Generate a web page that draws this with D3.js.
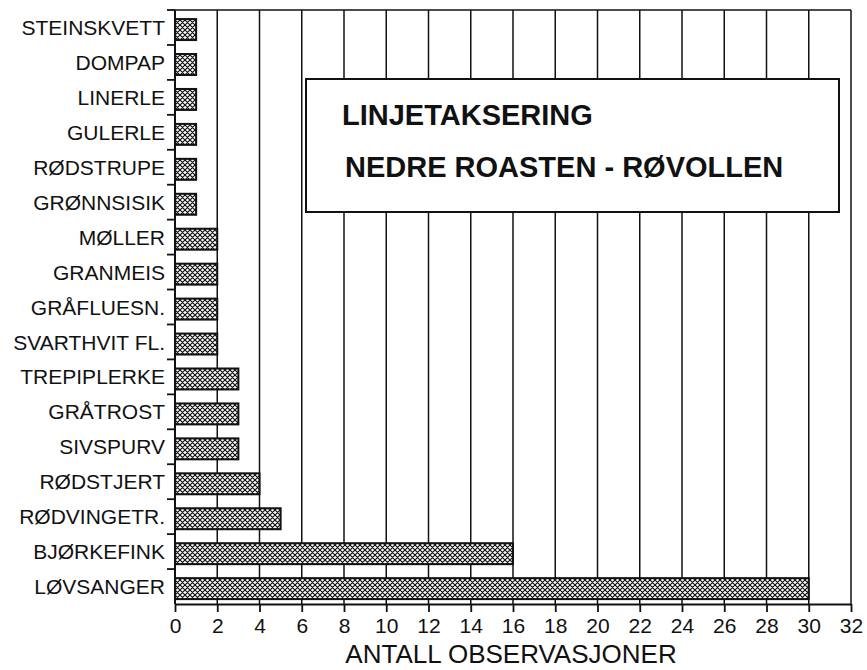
<!DOCTYPE html>
<meta charset="utf-8">
<body style="margin:0;background:#fff">
<script src="https://d3js.org/d3.v7.min.js"></script>
<style>
  body { font-family: "Liberation Sans", Arial, sans-serif; }
  .grid line { stroke: #111; stroke-width: 1.5; }
  .cat { font-size: 21px; fill: #111; }
  .x.axis text { font-size: 21px; fill: #111; font-family: "Liberation Sans", Arial, sans-serif; }
  .x.axis line, .x.axis path { stroke: #111; stroke-width: 1.8; }
</style>
<script>
// species, top to bottom
var species = ["STEINSKVETT", "DOMPAP", "LINERLE", "GULERLE", "RØDSTRUPE", "GRØNNSISIK",
  "MØLLER", "GRANMEIS", "GRÅFLUESN.", "SVARTHVIT FL.", "TREPIPLERKE", "GRÅTROST",
  "SIVSPURV", "RØDSTJERT", "RØDVINGETR.", "BJØRKEFINK", "LØVSANGER"];
var counts = [1, 1, 1, 1, 1, 1, 2, 2, 2, 2, 3, 3, 3, 4, 5, 16, 30];
var xTicks = [0, 2, 4, 6, 8, 10, 12, 14, 16, 18, 20, 22, 24, 26, 28, 30, 32];
var titleLines = ["LINJETAKSERING", "NEDRE ROASTEN - RØVOLLEN"];
var xTitle = "ANTALL OBSERVASJONER";

var W = 867, H = 670;
var margin = {top: 10, right: 16, bottom: 66, left: 175};

var svg = d3.select("body").append("svg")
    .attr("width", W)
    .attr("height", H);

// cross hatch fill for the bars
var pat = svg.append("defs").append("pattern")
    .attr("id", "hatch")
    .attr("patternUnits", "userSpaceOnUse")
    .attr("width", 5).attr("height", 5);
pat.append("rect").attr("width", 5).attr("height", 5).attr("fill", "#fff");
pat.append("path")
    .attr("d", "M0,0L5,5M5,0L0,5M-1,4L1,6M4,-1L6,1")
    .attr("stroke", "#111").attr("stroke-width", 1.2);

var x = d3.scaleLinear().domain([0, 32]).range([margin.left, W - margin.right]);
var y = d3.scaleBand().domain(species).range([margin.top, H - margin.bottom]).padding(0);

// vertical grid lines
svg.append("g").attr("class", "grid")
  .selectAll("line")
  .data(xTicks.slice(1))
  .enter().append("line")
    .attr("x1", function(d) { return x(d); })
    .attr("x2", function(d) { return x(d); })
    .attr("y1", margin.top)
    .attr("y2", H - margin.bottom);

// top frame line
svg.append("line")
    .attr("x1", x(0)).attr("x2", x(32))
    .attr("y1", margin.top).attr("y2", margin.top)
    .attr("stroke", "#111").attr("stroke-width", 1.5);

// bars
svg.append("g")
  .selectAll("rect")
  .data(species)
  .enter().append("rect")
    .attr("x", x(0))
    .attr("y", function(d) { return y(d) + y.step() * 0.26; })
    .attr("width", function(d, i) { return x(counts[i]) - x(0); })
    .attr("height", y.step() * 0.6)
    .attr("fill", "url(#hatch)")
    .attr("stroke", "#111")
    .attr("stroke-width", 2);

// left axis line and ticks between bands
svg.append("line")
    .attr("x1", x(0)).attr("x2", x(0))
    .attr("y1", margin.top).attr("y2", H - margin.bottom)
    .attr("stroke", "#111").attr("stroke-width", 2);

svg.append("g")
  .selectAll("line")
  .data(d3.range(species.length))
  .enter().append("line")
    .attr("x1", x(0) - 8).attr("x2", x(0))
    .attr("y1", function(i) { return margin.top + i * y.step(); })
    .attr("y2", function(i) { return margin.top + i * y.step(); })
    .attr("stroke", "#111").attr("stroke-width", 1.8);

svg.append("g")
  .selectAll("text")
  .data(species)
  .enter().append("text")
    .attr("class", "cat")
    .attr("x", x(0) - 10)
    .attr("y", function(d) { return y(d) + y.bandwidth() / 2; })
    .attr("dy", "0.36em")
    .attr("text-anchor", "end")
    .text(function(d) { return d; });

// bottom axis
svg.append("g")
    .attr("class", "x axis")
    .attr("transform", "translate(0," + (H - margin.bottom) + ")")
    .call(d3.axisBottom(x).tickValues(xTicks).tickSize(8).tickPadding(6).tickSizeOuter(0)
      .tickFormat(d3.format("d")));

svg.append("text")
    .attr("x", 511)
    .attr("y", 663)
    .attr("text-anchor", "middle")
    .style("font-size", "26px")
    .style("fill", "#111")
    .text(xTitle);

// title box
svg.append("rect")
    .attr("x", 306).attr("y", 79)
    .attr("width", 533).attr("height", 133)
    .attr("fill", "#fff")
    .attr("stroke", "#111")
    .attr("stroke-width", 2);

svg.append("text")
    .attr("x", 342).attr("y", 125)
    .style("font-size", "29px").style("font-weight", "bold").style("fill", "#111")
    .text(titleLines[0]);

svg.append("text")
    .attr("x", 345).attr("y", 177)
    .style("font-size", "29px").style("font-weight", "bold").style("fill", "#111")
    .text(titleLines[1]);
</script>
